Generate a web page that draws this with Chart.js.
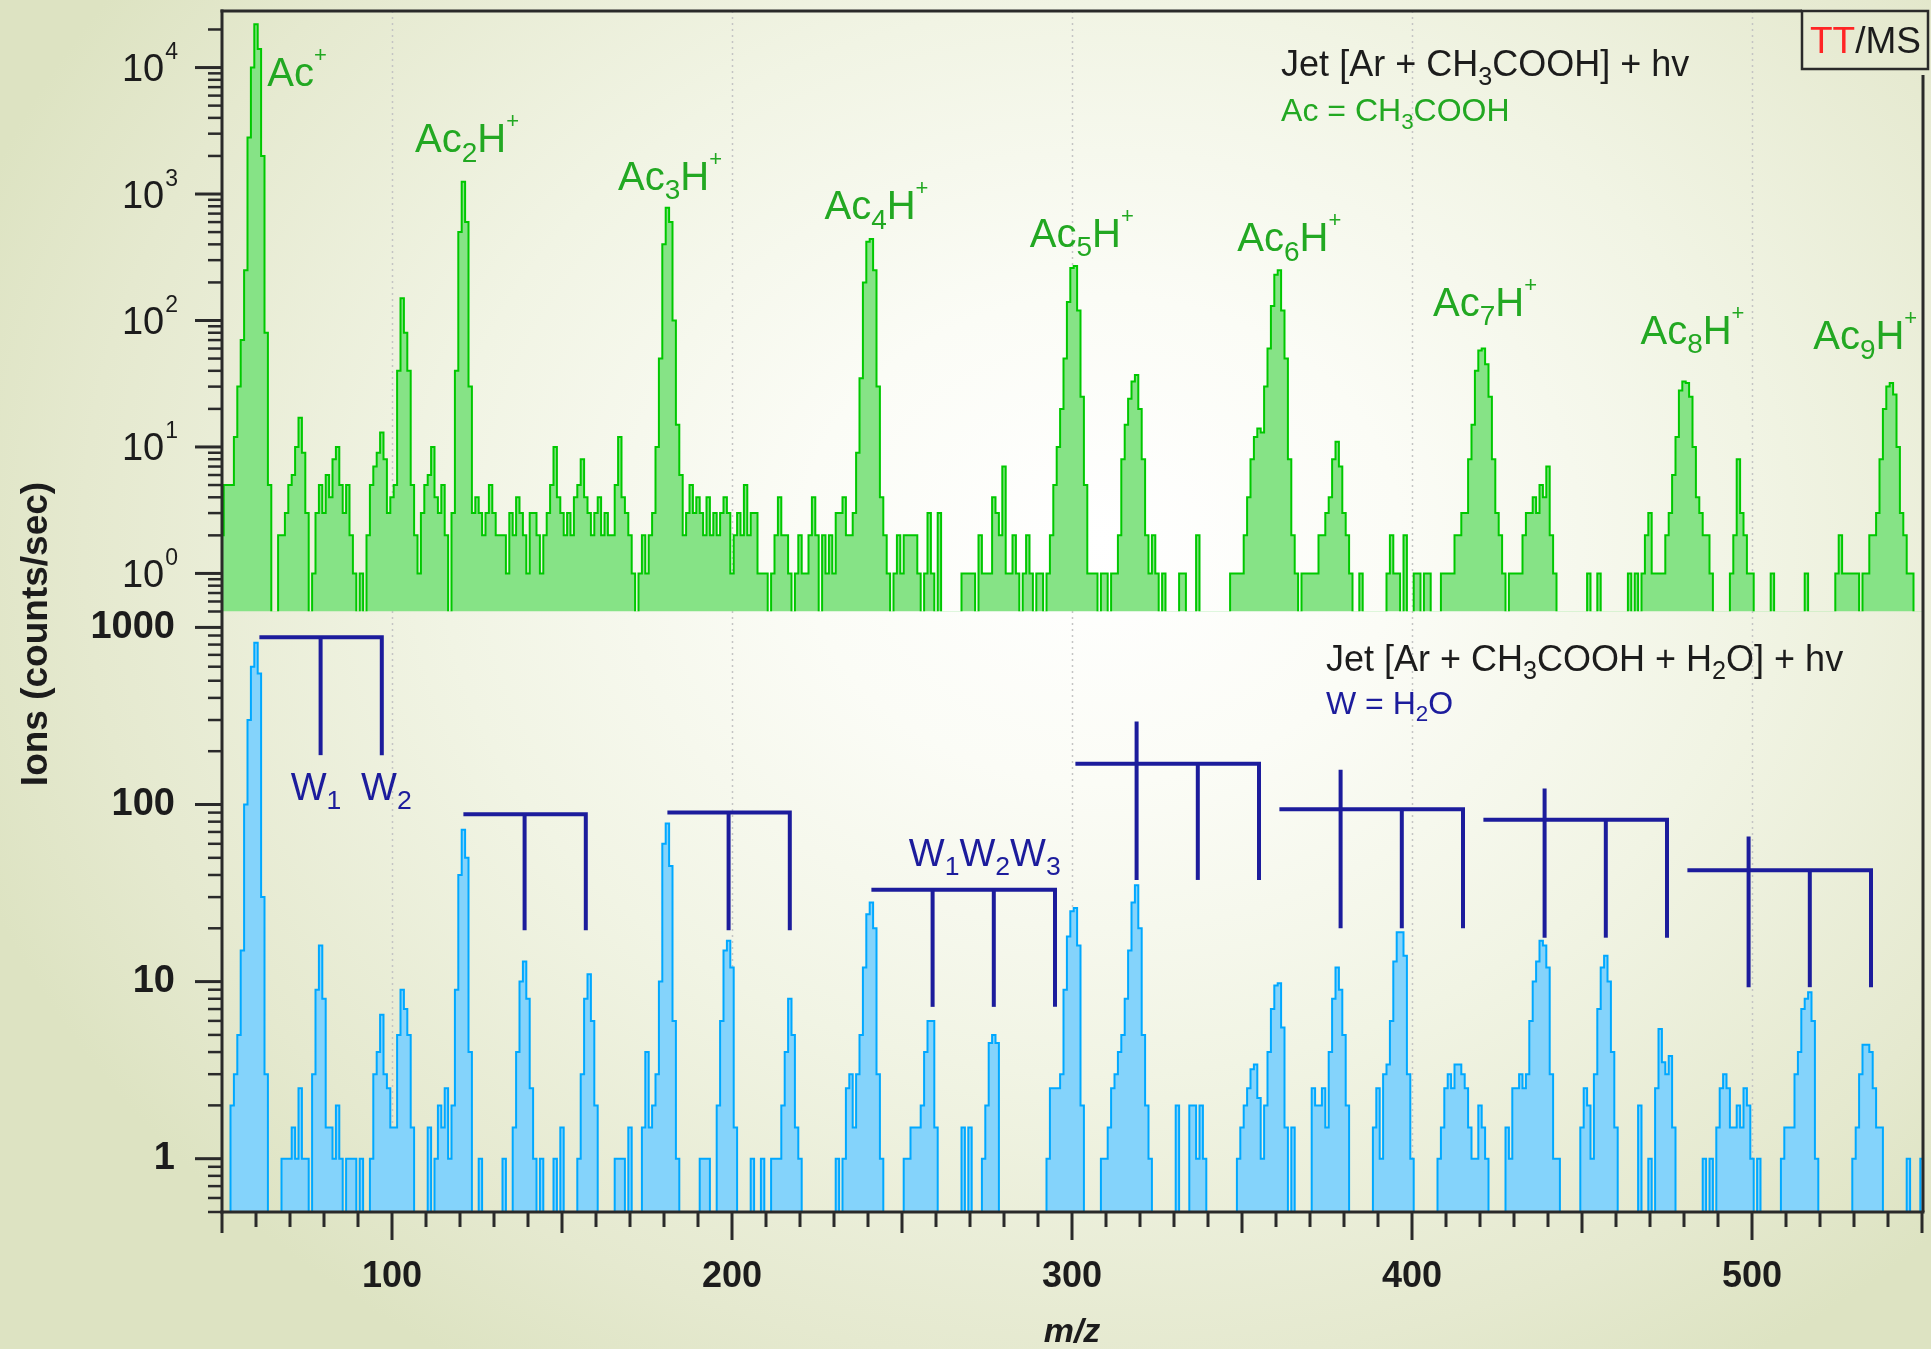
<!DOCTYPE html>
<html>
<head>
<meta charset="utf-8">
<title>Jet [Ar + CH3COOH] photoionisation mass spectra</title>
<script src="https://cdn.jsdelivr.net/npm/chart.js@4.4.1/dist/chart.umd.min.js"></script>
<style>
  html, body { margin: 0; padding: 0; }
  body {
    width: 1931px; height: 1349px; overflow: hidden;
    background: radial-gradient(ellipse 62% 72% at 57% 40%, #ffffff 0%, #fbfcf6 25%, #f1f4e4 55%, #e5e9cf 85%, #dde3c2 100%);
  }
  #wrap { position: relative; width: 1931px; height: 1349px; }
</style>
</head>
<body>
<div id="wrap"><canvas id="spectrum"></canvas></div>
<script>
// one channel per mass unit, m/z 50 .. 550
const mzFirst = 50;

// Jet [Ar + CH3COOH] + hv  (counts/sec)
const topCounts = [
  2, 5, 5, 5, 12, 30, 70, 250, 2800, 10000,
  22000, 14000, 2000, 80, 5, 0, 0, 2, 2, 3,
  5, 6, 10, 17, 9, 3, 0, 1, 3, 5,
  3, 6, 4, 8, 10, 5, 3, 5, 2, 1,
  0, 1, 0, 2, 5, 7, 9, 13, 8, 3,
  4, 5, 40, 150, 80, 40, 5, 2, 1, 3,
  5, 6, 10, 4, 3, 5, 2, 0, 3, 40,
  500, 1250, 600, 30, 3, 4, 3, 2, 3, 5,
  3, 2, 2, 2, 1, 3, 2, 4, 3, 2,
  1, 3, 3, 2, 1, 2, 3, 5, 10, 4,
  3, 2, 3, 2, 4, 5, 8, 4, 3, 2,
  3, 4, 2, 3, 2, 2, 5, 12, 4, 3,
  2, 1, 0, 1, 2, 1, 2, 3, 10, 50,
  400, 780, 600, 100, 15, 6, 2, 3, 5, 3,
  4, 3, 2, 4, 2, 3, 2, 3, 4, 3,
  1, 2, 3, 2, 5, 2, 3, 3, 1, 1,
  1, 0, 1, 2, 4, 2, 2, 1, 0, 1,
  2, 1, 1, 2, 4, 2, 0, 2, 1, 2,
  1, 3, 3, 4, 2, 2, 3, 9, 35, 200,
  420, 440, 250, 30, 4, 2, 1, 0, 1, 2,
  1, 2, 2, 2, 2, 1, 0, 1, 3, 1,
  0, 3, 0, 0, 0, 0, 0, 0, 1, 1,
  1, 1, 0, 2, 1, 1, 1, 4, 3, 2,
  7, 1, 1, 2, 1, 0, 1, 2, 1, 0,
  1, 1, 0, 1, 2, 5, 10, 20, 50, 140,
  260, 270, 120, 25, 5, 1, 1, 1, 0, 1,
  1, 0, 1, 1, 2, 8, 15, 24, 33, 37,
  20, 8, 2, 1, 2, 1, 0, 1, 0, 0,
  0, 0, 1, 1, 0, 0, 0, 2, 0, 0,
  0, 0, 0, 0, 0, 0, 0, 1, 1, 1,
  1, 2, 4, 8, 12, 14, 13, 30, 60, 130,
  230, 250, 120, 50, 8, 2, 1, 0, 1, 1,
  1, 1, 1, 2, 2, 3, 4, 8, 11, 7,
  3, 2, 1, 0, 0, 1, 0, 0, 0, 0,
  0, 0, 0, 1, 2, 1, 1, 0, 2, 0,
  0, 1, 1, 0, 1, 1, 0, 0, 0, 1,
  1, 1, 1, 2, 2, 3, 3, 8, 15, 40,
  58, 60, 45, 25, 8, 3, 2, 1, 0, 1,
  1, 1, 1, 2, 3, 3, 4, 3, 5, 4,
  7, 2, 1, 0, 0, 0, 0, 0, 0, 0,
  0, 0, 1, 0, 0, 1, 0, 0, 0, 0,
  0, 0, 0, 0, 1, 0, 1, 0, 1, 2,
  3, 1, 1, 1, 1, 2, 3, 6, 12, 28,
  33, 32, 25, 10, 4, 3, 2, 2, 1, 0,
  0, 0, 0, 0, 1, 2, 8, 3, 2, 1,
  1, 0, 0, 0, 0, 0, 1, 0, 0, 0,
  0, 0, 0, 0, 0, 0, 1, 0, 0, 0,
  0, 0, 0, 0, 0, 1, 2, 1, 1, 1,
  1, 1, 0, 1, 1, 2, 2, 3, 8, 20,
  30, 32, 26, 10, 3, 2, 1, 1, 0, 0,
  0
];

// Jet [Ar + CH3COOH + H2O] + hv  (counts/sec)
const bottomCounts = [
  0, 0, 0, 2, 3, 5, 15, 100, 300, 600,
  820, 550, 30, 3, 0, 0, 0, 0, 1, 1,
  1, 1.5, 1, 2.5, 1, 1, 0, 3, 9, 16,
  8, 1.5, 1.5, 1, 2, 1, 0, 1, 1, 1,
  0, 1, 0, 0, 1, 3, 4, 6.5, 3, 2.5,
  1.5, 1.5, 5, 9, 7, 5, 1.5, 0, 0, 0,
  0, 1.5, 0, 1, 2, 1.5, 2.5, 1, 2, 9,
  40, 72, 50, 4, 0, 0, 1, 0, 0, 0,
  0, 0, 0, 1, 0, 0, 1.5, 4, 10, 13,
  8, 2.5, 1, 0, 1, 0, 0, 0, 1, 0,
  1.5, 0, 0, 0, 0, 1, 3, 8, 11, 6,
  2, 0, 0, 0, 0, 0, 1, 1, 1, 0,
  1.5, 0, 0, 0, 1.5, 4, 1.5, 2, 3, 10,
  60, 78, 45, 6, 1, 0, 0, 0, 0, 0,
  0, 1, 1, 1, 0, 0, 2, 6, 15, 17,
  12, 1.5, 0, 0, 0, 0, 1, 0, 0, 1,
  0, 0, 1, 1, 1, 2, 4, 8, 5, 1.5,
  1, 0, 0, 0, 0, 0, 0, 0, 0, 0,
  0, 1, 0, 1, 2.5, 3, 1.5, 3, 5, 12,
  24, 28, 20, 3, 1, 0, 0, 0, 0, 0,
  0, 1, 1, 1.5, 1.5, 1.5, 2, 4, 6, 6,
  1.5, 0, 0, 0, 0, 0, 0, 0, 1.5, 0,
  1.5, 0, 0, 0, 1, 2, 4.5, 5, 4.5, 0,
  0, 0, 0, 0, 0, 0, 0, 0, 0, 0,
  0, 0, 0, 1, 2.5, 2.5, 2.5, 3, 9, 18,
  25, 26, 16, 2, 0, 0, 0, 0, 0, 1,
  1, 1.5, 2.5, 3, 4, 5, 8, 15, 28, 35,
  20, 5, 2, 1, 0, 0, 0, 0, 0, 0,
  0, 2, 0, 0, 0, 2, 2, 1, 2, 1,
  0, 0, 0, 0, 0, 0, 0, 0, 0, 1,
  1.5, 2, 2.5, 3.2, 3.4, 2.2, 1, 2, 4, 7,
  9.5, 9.8, 5.5, 1.5, 0, 1.5, 0, 0, 0, 0,
  0, 2.5, 2, 2, 2.5, 1.5, 4, 8, 12, 9,
  5, 2, 0, 0, 0, 0, 0, 0, 0, 1.5,
  2.5, 1, 3, 3.4, 6, 13, 19, 19, 14, 3,
  1, 0, 0, 0, 0, 0, 0, 0, 1, 1.5,
  2.5, 3, 2.5, 3.4, 3.4, 3, 2.5, 1.5, 1, 1,
  2, 1.5, 1, 0, 0, 0, 0, 0, 1.5, 1,
  2.5, 2.5, 3, 2.5, 3, 6, 10, 13, 17, 16,
  12, 3, 1, 1, 0, 0, 0, 0, 0, 0,
  1.5, 2.5, 2, 1, 3, 7, 12, 14, 10, 4,
  1.5, 0, 0, 0, 0, 0, 0, 2, 0, 0,
  1, 0, 2.5, 5.4, 3.5, 3, 3.8, 1.5, 0, 0,
  0, 0, 0, 0, 0, 0, 1, 0, 1, 0,
  1.5, 2.5, 3, 2.5, 1.5, 1.5, 2, 1.5, 2.5, 2,
  1, 0, 1, 0, 0, 0, 0, 0, 0, 1,
  1.5, 1.5, 1.5, 3, 4, 7, 8, 8.7, 6, 1,
  0, 0, 0, 0, 0, 0, 0, 0, 0, 0,
  1, 1.5, 3, 4.4, 4.4, 4, 2.5, 1.5, 1.5, 0,
  0, 0, 0, 0, 0, 0, 1, 0, 0, 0,
  1
];

// axes
const xTickValues = [100, 200, 300, 400, 500];
const topTickValues = [1, 10, 100, 1000, 10000];
const topTickPowers = ['0', '1', '2', '3', '4'];
const bottomTickValues = [1, 10, 100, 1000];

// cluster labels, top panel (left edge in m/z, baseline in counts)
const peakLabels = ['Ac^+', 'Ac_2H^+', 'Ac_3H^+', 'Ac_4H^+', 'Ac_5H^+', 'Ac_6H^+', 'Ac_7H^+', 'Ac_8H^+', 'Ac_9H^+'];
const peakLabelMz = [63.3, 106.8, 166.5, 227.2, 287.6, 348.6, 406.2, 467.2, 518];
const peakLabelCounts = [7200, 2140, 1080, 630, 383, 355, 109, 65.6, 59];

// water progressions, bottom panel
const bracketStart = [61, 121, 181, 241, 301, 361, 421, 481];
const bracketLevel = [880, 88, 90, 33, 170, 94, 82, 42.5];
const bracketDrop = [190, 19.5, 19.5, 7.2, 37.5, 20, 17.7, 9.3];
const bracketCrossTop = [null, null, null, null, 294, 157, 123, 66];
const bracketTicks = [[79, 97], [139, 157], [199, 217], [259, 277, 295],
  [319, 337, 355], [379, 397, 415], [439, 457, 475], [499, 517, 535]];

const waterLabels = ['W_1', 'W_2', 'W_1W_2W_3'];
const waterLabelMz = [70.2, 90.9, 252];
const waterLabelCounts = [106, 106, 45];

const FONT = '"Liberation Sans", Arial, sans-serif';
const DARK = '#1c1c1c';
const GREEN_TXT = '#22a822';
const NAVY = '#1c1c9c';
const ZERO_FLOOR = 0.3; // zero counts sit below the log axis and get clipped

const mz = topCounts.map((_, i) => mzFirst + i);
const toPoints = counts => counts.map((c, i) => ({ x: mz[i], y: c > 0 ? c : ZERO_FLOOR }));

function parseRich(str) {
  const parts = [];
  let buf = '';
  for (let i = 0; i < str.length; i++) {
    const c = str[i];
    if ((c === '_' || c === '^') && i + 1 < str.length) {
      if (buf) { parts.push({ t: buf }); buf = ''; }
      parts.push({ t: str[i + 1], sub: c === '_', sup: c === '^' });
      i++;
    } else {
      buf += c;
    }
  }
  if (buf) parts.push({ t: buf });
  return parts;
}

function drawRich(ctx, str, x, y, size, color, weight) {
  ctx.fillStyle = color;
  ctx.textAlign = 'left';
  ctx.textBaseline = 'alphabetic';
  let cx = x;
  for (const p of parseRich(str)) {
    let s = size, dy = 0;
    if (p.sub) { s = size * 0.7; dy = size * 0.24; }
    if (p.sup) { s = size * 0.55; dy = -size * 0.6; }
    ctx.font = (weight || 'normal') + ' ' + s.toFixed(1) + 'px ' + FONT;
    ctx.fillText(p.t, cx, y + dy);
    cx += ctx.measureText(p.t).width;
  }
}

function seg(ctx, x1, y1, x2, y2) {
  ctx.beginPath();
  ctx.moveTo(x1, y1);
  ctx.lineTo(x2, y2);
  ctx.stroke();
}

function logTicks(ctx, scale, axisX) {
  const lo = Math.floor(Math.log10(scale.min));
  const hi = Math.ceil(Math.log10(scale.max));
  for (let e = lo; e <= hi; e++) {
    for (let k = 1; k <= 9; k++) {
      const v = k * Math.pow(10, e);
      if (v < scale.min * 0.999 || v > scale.max) continue;
      const py = scale.getPixelForValue(v);
      ctx.lineWidth = k === 1 ? 3 : 2.5;
      seg(ctx, axisX - (k === 1 ? 27 : 14), py, axisX, py);
    }
  }
}

// no label overhang padding, so the plot area is exactly where we put it
function noPad(s) {
  s.paddingTop = 0; s.paddingBottom = 0; s.paddingLeft = 0; s.paddingRight = 0;
}

const spectrumDecor = {
  id: 'spectrumDecor',
  beforeDatasetsDraw(chart) {
    const { ctx, chartArea: a, scales: { x } } = chart;
    ctx.save();
    ctx.strokeStyle = '#c4c4c4';
    ctx.lineWidth = 1.5;
    ctx.setLineDash([2, 4]);
    for (const v of xTickValues) {
      const px = Math.round(x.getPixelForValue(v)) + 0.5;
      seg(ctx, px, a.top, px, a.bottom);
    }
    ctx.restore();
  },
  beforeDatasetDraw(chart, args) {
    const { ctx, chartArea: a } = chart;
    const ys = args.meta.yScale;
    ctx.save();
    ctx.beginPath();
    ctx.rect(a.left, ys.top, a.right - a.left, ys.bottom - ys.top);
    ctx.clip();
  },
  afterDatasetDraw(chart) {
    chart.ctx.restore();
  },
  afterDatasetsDraw(chart) {
    const { ctx, scales: { x, yBot } } = chart;
    ctx.save();
    ctx.strokeStyle = NAVY;
    ctx.lineWidth = 4;
    ctx.lineJoin = 'miter';
    bracketStart.forEach((start, i) => {
      const ticks = bracketTicks[i];
      const last = ticks[ticks.length - 1];
      const yl = yBot.getPixelForValue(bracketLevel[i]);
      const yd = yBot.getPixelForValue(bracketDrop[i]);
      ctx.beginPath();
      ctx.moveTo(x.getPixelForValue(start), yl);
      ctx.lineTo(x.getPixelForValue(last), yl);
      ctx.lineTo(x.getPixelForValue(last), yd);
      ctx.stroke();
      ticks.slice(0, -1).forEach((t, j) => {
        const top = (j === 0 && bracketCrossTop[i]) ? yBot.getPixelForValue(bracketCrossTop[i]) : yl;
        seg(ctx, x.getPixelForValue(t), top, x.getPixelForValue(t), yd);
      });
    });
    ctx.restore();
  },
  afterDraw(chart) {
    const { ctx, chartArea: a, scales: { x, yTop, yBot } } = chart;
    ctx.save();
    ctx.strokeStyle = '#2a2a2a';
    ctx.lineCap = 'butt';

    // frame
    ctx.lineWidth = 3;
    seg(ctx, a.left, a.top - 1.5, a.left, a.bottom + 1.5);
    seg(ctx, a.left - 1.5, a.bottom, a.right + 2.5, a.bottom);
    seg(ctx, a.left - 1.5, a.top, 1802, a.top);
    seg(ctx, a.right + 1, 75, a.right + 1, a.bottom);

    // y ticks
    logTicks(ctx, yTop, a.left);
    logTicks(ctx, yBot, a.left);

    // x ticks every 10
    for (let v = x.min; v <= x.max; v += 10) {
      const px = x.getPixelForValue(v);
      const len = v % 100 === 0 ? 28 : (v % 50 === 0 ? 21 : 15);
      ctx.lineWidth = 3;
      seg(ctx, px, a.bottom, px, a.bottom + len);
    }

    // top axis labels 10^n
    yTop.ticks.forEach((t, i) => {
      const py = yTop.getPixelForValue(t.value);
      ctx.font = '23px ' + FONT;
      const supW = ctx.measureText(topTickPowers[i]).width;
      const right = 178;
      ctx.fillStyle = DARK;
      ctx.textAlign = 'right';
      ctx.textBaseline = 'alphabetic';
      ctx.fillText(topTickPowers[i], right, py + 13.5 - 22);
      ctx.font = '38px ' + FONT;
      ctx.fillText('10', right - supW - 1, py + 13.5);
    });

    // TT/MS box
    ctx.lineWidth = 2.5;
    ctx.strokeRect(1802, 11, 126, 58);
    ctx.textAlign = 'left';
    ctx.font = '37px ' + FONT;
    ctx.fillStyle = '#ff2525';
    ctx.fillText('TT', 1810, 53);
    const ttW = ctx.measureText('TT').width;
    ctx.fillStyle = DARK;
    ctx.fillText('/MS', 1810 + ttW, 53);

    // cluster labels
    peakLabels.forEach((lab, i) => {
      drawRich(ctx, lab, x.getPixelForValue(peakLabelMz[i]), yTop.getPixelForValue(peakLabelCounts[i]), 40, GREEN_TXT);
    });
    waterLabels.forEach((lab, i) => {
      drawRich(ctx, lab, x.getPixelForValue(waterLabelMz[i]), yBot.getPixelForValue(waterLabelCounts[i]), 38, NAVY);
    });

    // panel headers
    drawRich(ctx, 'Jet [Ar + CH_3COOH] + hv', x.getPixelForValue(361.5), yTop.getPixelForValue(8590), 36, DARK);
    drawRich(ctx, 'Ac = CH_3COOH', x.getPixelForValue(361.5), yTop.getPixelForValue(3785), 32, GREEN_TXT);
    drawRich(ctx, 'Jet [Ar + CH_3COOH + H_2O] + hv', x.getPixelForValue(374.7), yBot.getPixelForValue(571), 36, DARK);
    drawRich(ctx, 'W = H_2O', x.getPixelForValue(374.7), yBot.getPixelForValue(326), 32, NAVY);

    // axis titles
    ctx.fillStyle = DARK;
    ctx.font = 'bold 37px ' + FONT;
    ctx.textAlign = 'center';
    ctx.textBaseline = 'middle';
    ctx.save();
    ctx.translate(37, 634);
    ctx.rotate(-Math.PI / 2);
    ctx.fillText('Ions (counts/sec)', 0, 0);
    ctx.restore();
    ctx.font = 'italic bold 34px ' + FONT;
    ctx.textBaseline = 'alphabetic';
    ctx.fillText('m/z', x.getPixelForValue(300), 1342);

    ctx.restore();
  }
};

Chart.defaults.font.family = FONT;

new Chart(document.getElementById('spectrum'), {
  type: 'line',
  data: {
    datasets: [
      {
        label: 'Jet [Ar + CH3COOH] + hv',
        data: toPoints(topCounts),
        yAxisID: 'yTop',
        borderColor: '#00c800',
        backgroundColor: '#86e386',
        borderWidth: 2,
        fill: 'start',
        stepped: 'middle',
        pointRadius: 0
      },
      {
        label: 'Jet [Ar + CH3COOH + H2O] + hv',
        data: toPoints(bottomCounts),
        yAxisID: 'yBot',
        borderColor: '#00a8ff',
        backgroundColor: '#84d3fb',
        borderWidth: 2,
        fill: 'start',
        stepped: 'middle',
        pointRadius: 0
      }
    ]
  },
  options: {
    responsive: true,
    maintainAspectRatio: false,
    animation: false,
    layout: { padding: { top: 11, right: 9, bottom: 0, left: 0 } },
    plugins: { legend: { display: false }, tooltip: { enabled: false } },
    scales: {
      x: {
        type: 'linear',
        min: 50,
        max: 550,
        bounds: 'data',
        afterFit: s => { s.height = 137; noPad(s); },
        afterBuildTicks: s => { s.ticks = xTickValues.map(v => ({ value: v })); },
        grid: { display: false, drawTicks: false },
        border: { display: false },
        ticks: {
          autoSkip: false,
          maxRotation: 0,
          padding: 43,
          color: DARK,
          font: { size: 36, weight: 'bold' },
          callback: v => String(v)
        }
      },
      yBot: {
        type: 'logarithmic',
        position: 'left',
        stack: 'panels',
        stackWeight: 1,
        min: 0.5,
        max: 1230,
        bounds: 'data',
        afterFit: s => { s.width = 222; noPad(s); },
        afterBuildTicks: s => { s.ticks = bottomTickValues.map(v => ({ value: v })); },
        grid: { display: false, drawTicks: false },
        border: { display: false },
        ticks: {
          padding: 47,
          color: DARK,
          font: { size: 38, weight: 'bold' },
          callback: v => String(v)
        }
      },
      yTop: {
        type: 'logarithmic',
        position: 'left',
        stack: 'panels',
        stackWeight: 1,
        min: 0.5,
        max: 28000,
        bounds: 'data',
        afterFit: s => { s.width = 222; noPad(s); },
        afterBuildTicks: s => { s.ticks = topTickValues.map(v => ({ value: v })); },
        grid: { display: false, drawTicks: false },
        border: { display: false },
        ticks: { display: false }
      }
    }
  },
  plugins: [spectrumDecor]
});
</script>
</body>
</html>
